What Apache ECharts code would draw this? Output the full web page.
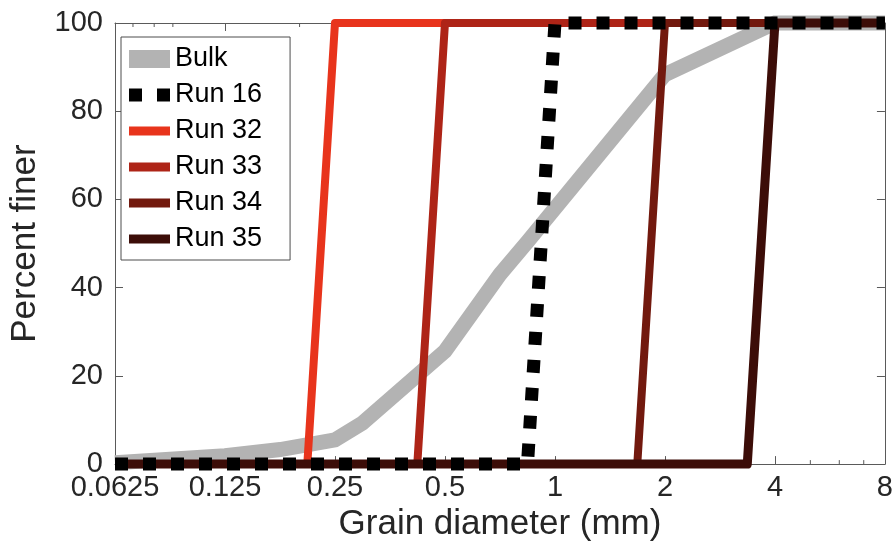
<!DOCTYPE html>
<html>
<head>
<meta charset="utf-8">
<script src="https://cdn.jsdelivr.net/npm/echarts@6/dist/echarts.min.js"></script>
<style>
  html, body { margin: 0; padding: 0; background: #fff; }
  #chart { width: 896px; height: 547px; }
</style>
</head>
<body>
<div id="chart"></div>
<script>
// Grain-size distributions: cumulative percent finer vs grain diameter (mm)
const bulkDiameter = [0.0625, 0.125, 0.177, 0.25, 0.297, 0.5, 0.707, 0.841, 2, 4, 8];
const bulkFiner    = [0.3, 1.9, 3.3, 5.5, 9.3, 25.6, 43, 50.4, 88.3, 100, 100];

const run16Diameter = [0.0625, 0.841, 1, 8];
const run16Finer    = [0, 0, 100, 100];
const run32Diameter = [0.0625, 0.210, 0.25, 8];
const run32Finer    = [0, 0, 100, 100];
const run33Diameter = [0.0625, 0.420, 0.5, 8];
const run33Finer    = [0, 0, 100, 100];
const run34Diameter = [0.0625, 1.68, 2, 8];
const run34Finer    = [0, 0, 100, 100];
const run35Diameter = [0.0625, 3.36, 4, 8];
const run35Finer    = [0, 0, 100, 100];

const xTickValues = [0.0625, 0.125, 0.25, 0.5, 1, 2, 4, 8];
const xTickLabels = ['0.0625', '0.125', '0.25', '0.5', '1', '2', '4', '8'];
const xMinorTicks = [0.07, 0.08, 0.09, 0.2, 5, 6, 7];
const yTickLabels = ['0', '20', '40', '60', '80', '100'];

const pairs = (xs, ys) => xs.map((x, i) => [x, ys[i]]);

const AXIS_COLOR = '#5a5a5a';
const TEXT_COLOR = '#262626';
const FONT = 'Liberation Sans, Arial, Helvetica, sans-serif';

const colors = {
  bulk: '#b3b3b3',
  run16: '#000000',
  run32: '#e8341c',
  run33: '#ae2417',
  run34: '#72190e',
  run35: '#3c0d08'
};

function xLabel(v) {
  const i = xTickValues.findIndex(t => Math.abs(Math.log2(t) - Math.log2(v)) < 1e-6);
  return i >= 0 ? xTickLabels[i] : '';
}

const chart = echarts.init(document.getElementById('chart'), null, { renderer: 'canvas' });

const lineSeries = (name, xs, ys, color, width, extra) => Object.assign({
  name: name,
  type: 'line',
  data: pairs(xs, ys),
  xAxisIndex: 0,
  yAxisIndex: 0,
  showSymbol: false,
  symbol: 'none',
  clip: false,
  animation: false,
  color: color,
  itemStyle: { color: color },
  lineStyle: { color: color, width: width, cap: 'butt', join: 'round' },
  emphasis: { disabled: true }
}, extra || {});

const option = {
  animation: false,
  backgroundColor: '#ffffff',
  textStyle: { fontFamily: FONT },
  grid: { left: 112, right: 10, top: 23, bottom: 80, containLabel: false },
  legend: {
    orient: 'vertical',
    left: 121,
    top: 37,
    padding: [7, 28, 6, 8],
    itemGap: 6,
    itemWidth: 41,
    itemHeight: 18,
    itemTextGap: 5,
    backgroundColor: '#ffffff',
    borderColor: '#4d4d4d',
    borderWidth: 1,
    selectedMode: false,
    textStyle: { fontFamily: FONT, fontSize: 27, color: '#000', lineHeight: 30 },
    data: [
      { name: 'Bulk', icon: 'rect', itemStyle: { color: colors.bulk } },
      { name: 'Run 16', icon: 'path://M0,0H13V13H0Z M28,0H41V13H28Z', itemStyle: { color: colors.run16 } },
      { name: 'Run 32', icon: 'path://M0,0H41V9H0Z', itemStyle: { color: colors.run32 } },
      { name: 'Run 33', icon: 'path://M0,0H41V9H0Z', itemStyle: { color: colors.run33 } },
      { name: 'Run 34', icon: 'path://M0,0H41V9H0Z', itemStyle: { color: colors.run34 } },
      { name: 'Run 35', icon: 'path://M0,0H41V9H0Z', itemStyle: { color: colors.run35 } }
    ]
  },
  xAxis: [
    {
      type: 'log',
      logBase: 2,
      min: xTickValues[0],
      max: xTickValues[xTickValues.length - 1],
      splitNumber: 7,
      position: 'bottom',
      name: 'Grain diameter (mm)',
      nameLocation: 'middle',
      nameGap: 39,
      nameTextStyle: { fontFamily: FONT, fontSize: 35, color: TEXT_COLOR },
      axisLine: { show: true, onZero: false, lineStyle: { color: AXIS_COLOR, width: 1 } },
      axisTick: { show: true, inside: true, length: 8, lineStyle: { color: AXIS_COLOR, width: 1 } },
      axisLabel: { show: true, margin: 9, fontFamily: FONT, fontSize: 29, color: TEXT_COLOR, formatter: xLabel, hideOverlap: false },
      splitLine: { show: false }
    },
    {
      type: 'log',
      logBase: 2,
      min: xTickValues[0],
      max: xTickValues[xTickValues.length - 1],
      splitNumber: 7,
      position: 'top',
      axisLine: { show: true, onZero: false, lineStyle: { color: AXIS_COLOR, width: 1 } },
      axisTick: { show: true, inside: true, length: 8, lineStyle: { color: AXIS_COLOR, width: 1 } },
      axisLabel: { show: false },
      splitLine: { show: false }
    }
  ],
  yAxis: [
    {
      type: 'value',
      min: 0,
      max: 100,
      interval: 20,
      position: 'left',
      name: 'Percent finer',
      nameLocation: 'middle',
      nameGap: 72,
      nameTextStyle: { fontFamily: FONT, fontSize: 35, color: TEXT_COLOR },
      axisLine: { show: true, onZero: false, lineStyle: { color: AXIS_COLOR, width: 1 } },
      axisTick: { show: true, inside: true, length: 8, lineStyle: { color: AXIS_COLOR, width: 1 } },
      axisLabel: { show: true, margin: 12, fontFamily: FONT, fontSize: 29, color: TEXT_COLOR,
        formatter: v => yTickLabels[Math.round(v / 20)] },
      splitLine: { show: false }
    },
    {
      type: 'value',
      min: 0,
      max: 100,
      interval: 20,
      position: 'right',
      axisLine: { show: true, onZero: false, lineStyle: { color: AXIS_COLOR, width: 1 } },
      axisTick: { show: true, inside: true, length: 8, lineStyle: { color: AXIS_COLOR, width: 1 } },
      axisLabel: { show: false },
      splitLine: { show: false }
    }
  ],
  series: [
    {
      // short minor ticks on the log axis, top and bottom edges
      name: 'minor ticks',
      type: 'custom',
      xAxisIndex: 0,
      yAxisIndex: 0,
      silent: true,
      animation: false,
      clip: false,
      z: 1,
      data: xMinorTicks.map(v => [v]),
      renderItem: function (params, api) {
        const bottom = api.coord([api.value(0), 0]);
        const top = api.coord([api.value(0), 100]);
        const style = { stroke: AXIS_COLOR, lineWidth: 1 };
        return {
          type: 'group',
          children: [
            { type: 'line', shape: { x1: bottom[0], y1: bottom[1], x2: bottom[0], y2: bottom[1] - 4 }, style: style },
            { type: 'line', shape: { x1: top[0], y1: top[1], x2: top[0], y2: top[1] + 4 }, style: style }
          ]
        };
      }
    },
    lineSeries('Bulk', bulkDiameter, bulkFiner, colors.bulk, 15, { z: 2, lineStyle: { color: colors.bulk, width: 15, cap: 'butt', join: 'miter' } }),
    lineSeries('Run 32', run32Diameter, run32Finer, colors.run32, 8, { z: 3 }),
    lineSeries('Run 33', run33Diameter, run33Finer, colors.run33, 8, { z: 4 }),
    lineSeries('Run 34', run34Diameter, run34Finer, colors.run34, 8, { z: 5 }),
    lineSeries('Run 35', run35Diameter, run35Finer, colors.run35, 9, { z: 6 }),
    lineSeries('Run 16', run16Diameter, run16Finer, colors.run16, 13, {
      z: 7,
      lineStyle: { color: colors.run16, width: 13, type: [13, 15], cap: 'butt', join: 'miter' }
    })
  ]
};

chart.setOption(option);
</script>
</body>
</html>
